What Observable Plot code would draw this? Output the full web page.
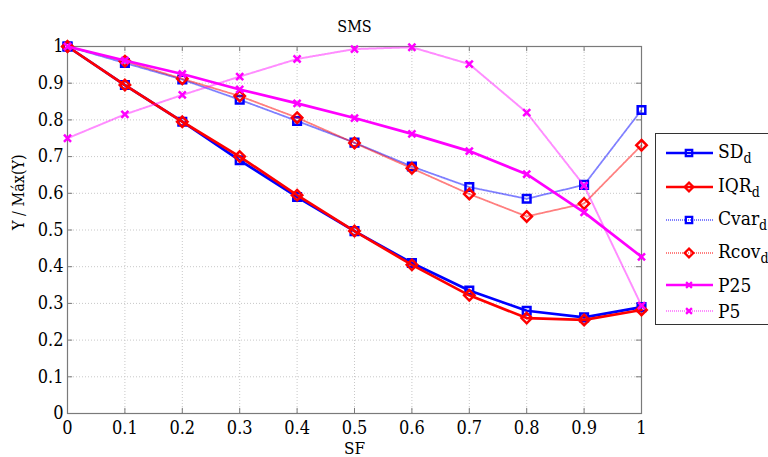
<!DOCTYPE html>
<html>
<head>
<meta charset="utf-8">
<script src="https://cdn.jsdelivr.net/npm/d3@7"></script>
<script src="https://cdn.jsdelivr.net/npm/@observablehq/plot@0.6"></script>
<style>
  html, body { margin: 0; padding: 0; background: #fff; overflow: hidden; }
  #wrap { position: relative; width: 768px; height: 457px; font-family: "DejaVu Serif Condensed", "DejaVu Serif", serif; font-stretch: condensed; }
  #legend { position: absolute; left: 655px; top: 133px; width: 125px; height: 192px; border: 1px solid #333; background: #fff; box-sizing: border-box; }
  .item { position: absolute; left: 8px; height: 24px; display: flex; align-items: center; font-size: 19px; color: #000; }
  .item svg { margin-right: 4px; }
  .item sub { font-size: 14px; vertical-align: -5px; }
</style>
</head>
<body>
<div id="wrap"><div id="legend"></div></div>
<script>
// ---- data ----
const sf = [0, 0.1, 0.2, 0.3, 0.4, 0.5, 0.6, 0.7, 0.8, 0.9, 1];
const sdD   = [1, 0.895, 0.795, 0.690, 0.590, 0.497, 0.410, 0.335, 0.280, 0.262, 0.290];
const iqrD  = [1, 0.895, 0.795, 0.700, 0.595, 0.497, 0.405, 0.322, 0.260, 0.255, 0.282];
const cvarD = [1, 0.955, 0.910, 0.855, 0.797, 0.738, 0.673, 0.617, 0.585, 0.623, 0.827];
const rcovD = [1, 0.960, 0.912, 0.865, 0.806, 0.737, 0.668, 0.598, 0.537, 0.572, 0.731];
const p25   = [1, 0.962, 0.925, 0.883, 0.845, 0.805, 0.762, 0.715, 0.652, 0.548, 0.427];
const p5    = [0.750, 0.815, 0.868, 0.918, 0.966, 0.993, 0.998, 0.952, 0.820, 0.621, 0.294];
const xTicks = [0, 0.1, 0.2, 0.3, 0.4, 0.5, 0.6, 0.7, 0.8, 0.9, 1];
const yTicks = [0, 0.1, 0.2, 0.3, 0.4, 0.5, 0.6, 0.7, 0.8, 0.9, 1];
const seriesNames = ["SD", "IQR", "Cvar", "Rcov", "P25", "P5"];
const seriesSubs = ["d", "d", "d", "d", "", ""];
const title = "SMS";
const xLabel = "SF";
const yLabel = "Y / Máx(Y)";

// ---- styles ----
const seriesData = [sdD, iqrD, cvarD, rcovD, p25, p5];
const styles = [
  {color: "#0000ff", symbol: "square", r: 4.3, width: 2.7, dash: null, opacity: 1},
  {color: "#ff0000", symbol: "diamond2", r: 4.7, width: 2.7, dash: null, opacity: 1},
  {color: "#0000ff", symbol: "square", r: 4.3, width: 1.8, dash: "1,1", opacity: 0.5},
  {color: "#ff0000", symbol: "diamond2", r: 4.7, width: 1.8, dash: "1,1", opacity: 0.5},
  {color: "#ff00ff", symbol: "times", r: 3.3, width: 2.7, dash: null, opacity: 1},
  {color: "#ff00ff", symbol: "times", r: 3.3, width: 2, dash: "1,1", opacity: 0.45}
];

const fmt = d => String(+d.toFixed(1));
const gray = "#7a7a7a";
const ff = "'DejaVu Serif Condensed', 'DejaVu Serif', serif";

const marks = [
  Plot.gridX(xTicks, {stroke: "#c8c8c8", strokeOpacity: 1, strokeDasharray: "1,2"}),
  Plot.gridY(yTicks, {stroke: "#c8c8c8", strokeOpacity: 1, strokeDasharray: "1,2"}),
  Plot.ruleX(xTicks, {x: d => d, y1: 0, y2: 0.014, stroke: gray}),
  Plot.ruleX(xTicks, {x: d => d, y1: 1, y2: 0.986, stroke: gray}),
  Plot.ruleY(yTicks, {y: d => d, x1: 0, x2: 0.009, stroke: gray}),
  Plot.ruleY(yTicks, {y: d => d, x1: 1, x2: 0.991, stroke: gray}),
  Plot.frame({stroke: gray, strokeWidth: 1.2}),
  Plot.axisX({ticks: xTicks, tickFormat: fmt, tickSize: 0, tickPadding: 8, label: null, fontSize: 18}),
  Plot.axisY({ticks: yTicks, tickFormat: fmt, tickSize: 0, tickPadding: 4, label: null, fontSize: 18}),
  Plot.text([xLabel], {frameAnchor: "bottom", dy: 40, fontSize: 17}),
  Plot.text([yLabel], {frameAnchor: "left", dx: -49, rotate: -90, fontSize: 16}),
  Plot.text([title], {frameAnchor: "top", dy: -26, fontSize: 16})
];

seriesData.forEach((vals, i) => {
  const s = styles[i];
  marks.push(Plot.line(sf, {x: sf, y: vals, stroke: s.color, strokeWidth: s.width,
    strokeDasharray: s.dash, strokeOpacity: s.opacity}));
  marks.push(Plot.dot(sf, {x: sf, y: vals, symbol: s.symbol, r: s.r, stroke: s.color,
    strokeWidth: 2.5, fill: "none"}));
});

const chart = Plot.plot({
  width: 768, height: 457,
  marginLeft: 67, marginRight: 127, marginTop: 46, marginBottom: 44,
  x: {domain: [0, 1]},
  y: {domain: [0, 1]},
  style: {fontFamily: ff, fontSize: "18px", color: "#000", background: "#fff", fontStretch: "condensed"},
  marks
});
document.getElementById("wrap").prepend(chart);

// ---- legend ----
const legend = d3.select("#legend");
const rowTops = [7, 41, 74, 107, 139, 165];
seriesNames.forEach((name, i) => {
  const s = styles[i];
  const item = legend.append("div").attr("class", "item").style("top", rowTops[i] + "px");
  const svg = item.append("svg").attr("width", 50).attr("height", 24);
  svg.append("line").attr("x1", 2).attr("x2", 49).attr("y1", 12).attr("y2", 12)
    .attr("stroke", s.color).attr("stroke-width", s.width)
    .attr("stroke-dasharray", s.dash).attr("stroke-opacity", s.opacity);
  const symMap = {square: d3.symbolSquare, diamond2: d3.symbolDiamond2, times: d3.symbolTimes};
  svg.append("path").attr("transform", "translate(25,12)")
    .attr("d", d3.symbol(symMap[s.symbol], Math.PI * s.r * s.r * 0.7)())
    .attr("fill", "none").attr("stroke", s.color).attr("stroke-width", 2.3);
  const label = item.append("span").text(name);
  if (seriesSubs[i]) label.append("sub").text(seriesSubs[i]);
});
</script>
</body>
</html>
